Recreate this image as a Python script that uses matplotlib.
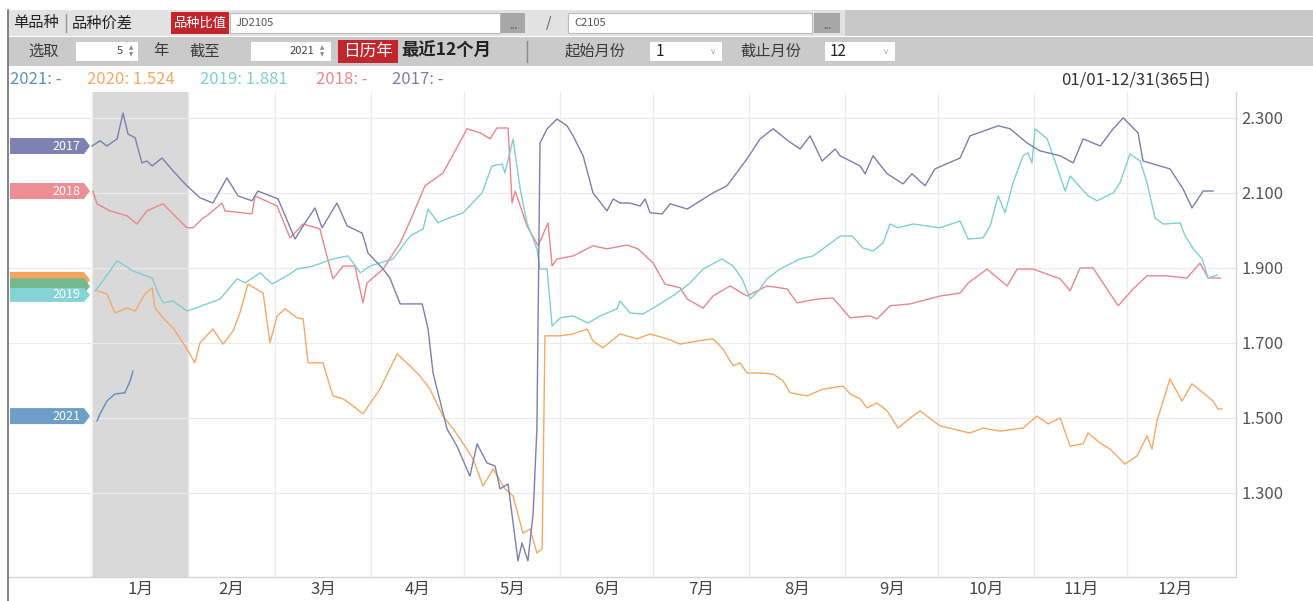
import matplotlib
matplotlib.use('Agg')
import matplotlib.pyplot as plt
from matplotlib.patches import Rectangle, Polygon
from matplotlib.transforms import blended_transform_factory
from matplotlib.ticker import FormatStrFormatter, FixedLocator

plt.rcParams['font.family'] = ['Noto Sans CJK SC', 'DejaVu Sans']

# ---------------- data (day of year, ratio JD2105 / C2105) ----------------
days_2017 = [0, 2.6, 4.8, 8.1, 10, 11.6, 13.9, 16.1, 17.7, 19.4, 22.6, 26.1, 30, 34.8, 39, 43.5, 47.1,
             51.6, 53.5, 60, 65.5, 68.7, 71.9, 74.2, 79, 82.3, 87.1, 88.1, 89, 93.9, 96.1, 99.4, 106.5,
             108.4, 110, 114.5, 117.7, 121.9, 124.2, 127.4, 130, 131.6, 134.2, 137.4, 138.7, 140.6,
             142.3, 143.5, 144.5, 146.8, 150, 153.2, 155.2, 158.4, 161.6, 166.1, 168.1, 170.3, 173.5,
             176.8, 178.4, 180, 183.9, 186.5, 192, 200.3, 204.8, 211.3, 215.5, 219.7, 224.5, 228.4,
             231.6, 235.5, 239.7, 241.3, 247.7, 249.4, 251.9, 256.5, 261.6, 264.5, 268.7, 271.9, 280,
             283.2, 292.3, 296.1, 301.6, 305.8, 312.3, 316.5, 319.7, 325.2, 329.4, 332.6, 337.4, 339,
             347.7, 351.9, 354.8, 358.4, 361.6]
vals_2017 = [2.225, 2.239, 2.225, 2.244, 2.313, 2.257, 2.247, 2.180, 2.185, 2.172, 2.193, 2.159, 2.124,
             2.087, 2.073, 2.140, 2.092, 2.079, 2.105, 2.084, 1.977, 2.020, 2.060, 2.007, 2.073, 2.012,
             1.993, 1.967, 1.940, 1.897, 1.873, 1.804, 1.804, 1.737, 1.620, 1.471, 1.425, 1.345, 1.431,
             1.380, 1.372, 1.311, 1.324, 1.119, 1.167, 1.119, 1.247, 1.471, 2.233, 2.271, 2.297, 2.279,
             2.252, 2.199, 2.100, 2.052, 2.084, 2.073, 2.073, 2.065, 2.084, 2.047, 2.044, 2.071, 2.057,
             2.100, 2.119, 2.191, 2.244, 2.271, 2.239, 2.217, 2.252, 2.185, 2.217, 2.199, 2.172, 2.151,
             2.199, 2.151, 2.124, 2.151, 2.119, 2.164, 2.193, 2.252, 2.279, 2.271, 2.233, 2.212, 2.199,
             2.180, 2.244, 2.225, 2.271, 2.300, 2.260, 2.185, 2.164, 2.111, 2.060, 2.105, 2.105]

days_2018 = [0.3, 1.6, 5.8, 11.3, 14.5, 17.7, 22.9, 26.1, 30.6, 32.6, 35.8, 37.1, 41.9, 42.9, 51.6, 52.6,
             59.7, 63.9, 68.1, 73.5, 77.7, 81, 84.8, 87.4, 88.7, 93.9, 99.4, 102.6, 107.4, 113.2, 121,
             125.2, 128.4, 130.6, 134.2, 135.5, 136.5, 140.3, 143.9, 147.1, 148.4, 150, 155.2, 161.6,
             166.1, 172.6, 176.1, 181, 184.8, 189.7, 192, 197.1, 200.3, 205.8, 211.3, 217.7, 224.2,
             227.4, 233.9, 239, 244.5, 251, 253.2, 257.4, 263.9, 273.5, 280, 282.6, 288.7, 295.2,
             298.4, 303.5, 312.3, 315.5, 318.7, 322.9, 325.2, 331, 335.8, 340.3, 346.8, 353.2, 357.4,
             360, 363.9]
vals_2018 = [2.105, 2.071, 2.052, 2.039, 2.017, 2.052, 2.071, 2.044, 2.007, 2.007, 2.033, 2.039, 2.073,
             2.052, 2.044, 2.092, 2.065, 1.980, 2.017, 2.004, 1.871, 1.905, 1.905, 1.807, 1.860, 1.897,
             1.967, 2.025, 2.119, 2.153, 2.271, 2.260, 2.244, 2.273, 2.273, 2.073, 2.105, 2.012, 1.959,
             2.020, 1.905, 1.924, 1.932, 1.959, 1.951, 1.961, 1.951, 1.913, 1.857, 1.847, 1.817, 1.793,
             1.825, 1.852, 1.825, 1.852, 1.844, 1.807, 1.817, 1.820, 1.767, 1.772, 1.764, 1.799, 1.804,
             1.825, 1.833, 1.860, 1.897, 1.852, 1.897, 1.897, 1.871, 1.839, 1.900, 1.900, 1.871, 1.799,
             1.844, 1.879, 1.879, 1.873, 1.913, 1.873, 1.873]

days_2019 = [1, 3.5, 8.1, 13.2, 19.4, 21, 22.9, 26.1, 30.6, 37.1, 41.3, 46.8, 49.4, 54.2, 58.1, 63.9,
             66.1, 71.3, 77.7, 82.6, 86.5, 89.7, 97.1, 102.6, 106.8, 108.4, 111.6, 114.5, 119.7, 125.8,
             129, 132.3, 133.2, 135.8, 138.1, 140.3, 143.5, 144.5, 146.8, 148.4, 151, 155.2, 160,
             163.9, 169.4, 170.3, 173.5, 177.7, 183.2, 188.7, 192.9, 197.1, 203.2, 206.8, 209.7, 212.3,
             215.5, 217.7, 221.9, 228.4, 232.6, 237.1, 241.3, 245.2, 248.7, 251.9, 255.2, 257.4, 260,
             264.8, 273.5, 280, 282.6, 287.4, 289.7, 292.3, 294.5, 297.1, 300.3, 301.9, 303.2, 304.2,
             308.1, 310, 313.9, 315.5, 321.3, 324.2, 329.4, 331.6, 334.8, 338.1, 340.3, 342.9, 345.5,
             351, 352.6, 355.2, 358.1, 360, 362.9]
vals_2019 = [1.839, 1.865, 1.919, 1.892, 1.873, 1.839, 1.807, 1.812, 1.785, 1.804, 1.817, 1.871, 1.860,
             1.887, 1.857, 1.884, 1.897, 1.905, 1.924, 1.932, 1.887, 1.905, 1.924, 1.985, 2.004, 2.057,
             2.020, 2.031, 2.047, 2.100, 2.172, 2.177, 2.153, 2.244, 2.111, 2.020, 1.951, 1.897, 1.897,
             1.745, 1.767, 1.772, 1.753, 1.772, 1.791, 1.812, 1.780, 1.777, 1.804, 1.833, 1.860, 1.897,
             1.924, 1.905, 1.871, 1.817, 1.844, 1.871, 1.897, 1.924, 1.932, 1.959, 1.985, 1.985, 1.953,
             1.945, 1.967, 2.017, 2.007, 2.017, 2.007, 2.025, 1.977, 1.980, 2.012, 2.092, 2.047, 2.127,
             2.199, 2.207, 2.180, 2.271, 2.244, 2.199, 2.105, 2.145, 2.092, 2.079, 2.100, 2.127, 2.204,
             2.185, 2.127, 2.033, 2.017, 2.020, 1.985, 1.951, 1.924, 1.873, 1.881]

days_2020 = [1.6, 4.8, 7.4, 11.3, 13.9, 17.1, 19.4, 20.3, 22.9, 26.1, 30.6, 33.2, 34.8, 39, 42.3, 45.5,
             47.7, 50.3, 55.2, 57.4, 59.7, 62.3, 66.1, 68.1, 69.7, 74.5, 77.7, 81, 84.2, 87.4, 92.9,
             98.4, 103.5, 105.8, 109, 113.2, 116.5, 120.3, 122.9, 126.1, 129.4, 133.2, 135.8, 139,
             141.3, 143.5, 145.2, 146.1, 151, 155.2, 159.7, 161.6, 164.8, 170.3, 175.8, 180, 185.5,
             189.7, 195.2, 200.3, 203.5, 206.8, 209, 211.3, 215.5, 219.7, 222.9, 225.2, 230.6, 235.8,
             242.3, 244.5, 247.7, 250, 253.2, 256.5, 260, 263.9, 267.1, 273.5, 283.2, 287.4, 292.9,
             300.3, 304.8, 308.4, 312.3, 315.5, 319.7, 321.3, 325.2, 328.4, 333.2, 337.1, 340.3, 341.9,
             343.5, 347.7, 351.6, 354.8, 358.4, 361.6, 363.2, 364.5]
vals_2020 = [1.839, 1.831, 1.780, 1.793, 1.785, 1.831, 1.847, 1.793, 1.767, 1.740, 1.684, 1.647, 1.700,
             1.737, 1.697, 1.732, 1.780, 1.857, 1.833, 1.700, 1.772, 1.791, 1.767, 1.764, 1.647, 1.647,
             1.559, 1.551, 1.532, 1.511, 1.577, 1.671, 1.631, 1.612, 1.577, 1.505, 1.471, 1.425, 1.391,
             1.319, 1.364, 1.311, 1.292, 1.193, 1.204, 1.140, 1.151, 1.719, 1.719, 1.724, 1.737, 1.705,
             1.687, 1.724, 1.711, 1.724, 1.711, 1.697, 1.705, 1.711, 1.684, 1.639, 1.647, 1.620, 1.620,
             1.617, 1.599, 1.567, 1.559, 1.577, 1.585, 1.564, 1.551, 1.527, 1.540, 1.519, 1.473, 1.500,
             1.519, 1.479, 1.460, 1.473, 1.465, 1.473, 1.505, 1.484, 1.500, 1.425, 1.431, 1.460, 1.433,
             1.417, 1.377, 1.399, 1.452, 1.417, 1.492, 1.604, 1.545, 1.591, 1.567, 1.545, 1.524, 1.524]

days_2021 = [1.6, 2.6, 4.8, 7.4, 10.6, 12.3, 13.2]
vals_2021 = [1.492, 1.511, 1.545, 1.564, 1.567, 1.599, 1.625]

years = ['2021', '2020', '2019', '2018', '2017']
latest = ['-', '1.524', '1.881', '-', '-']
month_labels = ['1月', '2月', '3月', '4月', '5月', '6月', '7月', '8月', '9月', '10月', '11月', '12月']
month_starts = [0, 31, 59, 90, 120, 151, 181, 212, 243, 273, 304, 334, 365]
yticks = [1.3, 1.5, 1.7, 1.9, 2.1, 2.3]

colors = {'2017': '#7b7fae', '2018': '#e8878e', '2019': '#7fcfd3',
          '2020': '#f4a964', '2021': '#5b91bc'}
tag_colors = {'2017': '#7d82b3', '2018': '#ec8f95', '2020': '#f6a55e', 'g': '#72b98e',
              '2019': '#84d3d6', '2021': '#6c9ec7'}

W, H = 1313, 601
fig = plt.figure(figsize=(W / 100, H / 100), dpi=100)
fig.patch.set_facecolor('white')

# ---------------- main chart ----------------
ax_l, ax_r, ax_t, ax_b = 8, 1236, 92, 577
ax = fig.add_axes([ax_l / W, (H - ax_b) / H, (ax_r - ax_l) / W, (ax_b - ax_t) / H])
ax.set_xlim(-27.1, 369.0)
ax.set_ylim(1.076, 2.369)

ax.axvspan(month_starts[0], month_starts[1], color='#d9d9d9', lw=0, zorder=0)

for s in ['left', 'top']:
    ax.spines[s].set_visible(False)
for s in ['right', 'bottom']:
    ax.spines[s].set_color('#d4d4d4')
    ax.spines[s].set_linewidth(1.0)

centers = [(month_starts[i] + month_starts[i + 1]) / 2 for i in range(12)]
ax.xaxis.set_major_locator(FixedLocator(centers))
ax.set_xticklabels(month_labels)
ax.xaxis.set_minor_locator(FixedLocator(month_starts[:12]))
ax.tick_params(axis='x', which='both', length=0, pad=3, labelsize=12, labelcolor='#444444')
ax.grid(which='minor', axis='x', color='#ebebeb', lw=0.9, zorder=1)

ax.yaxis.tick_right()
ax.set_yticks(yticks)
ax.yaxis.set_major_formatter(FormatStrFormatter('%.3f'))
ax.tick_params(axis='y', length=0, pad=4, labelsize=12, labelcolor='#555555')
ax.grid(which='major', axis='y', color='#ebebeb', lw=0.9, zorder=1)

series = [('2018', days_2018, vals_2018), ('2019', days_2019, vals_2019),
          ('2020', days_2020, vals_2020), ('2017', days_2017, vals_2017),
          ('2021', days_2021, vals_2021)]
for yr, d, v in series:
    ax.plot(d, v, color=colors[yr], lw=1.0, zorder=3)

# left-side year tags
bt = blended_transform_factory(ax.transAxes, ax.transData)
axw = ax_r - ax_l
px_per_unit = (ax_b - ax_t) / (2.369 - 1.076)
x0, x1, x2 = (10 - ax_l) / axw, (84 - ax_l) / axw, (90 - ax_l) / axw
xt = (80 - ax_l) / axw
tags = [('2017', vals_2017[0], '2017', 8), ('2018', vals_2018[0], '2018', 8),
        ('2020', 1.868, '', 8), ('g', 1.851, '', 8), ('2019', 1.828, '2019', 7),
        ('2021', 1.505, '2021', 8)]
for key, yv, label, hp in tags:
    h = hp / px_per_unit
    poly = Polygon([(x0, yv - h), (x1, yv - h), (x2, yv), (x1, yv + h), (x0, yv + h)],
                   closed=True, transform=bt, facecolor=tag_colors[key], edgecolor='none',
                   zorder=6, clip_on=False)
    ax.add_patch(poly)
    if label:
        ax.text(xt, yv, label, transform=bt, ha='right', va='center', color='white',
                fontsize=9, zorder=7)

# ---------------- UI overlay (toolbar, legend row) ----------------
ui = fig.add_axes([0, 0, 1, 1], zorder=10)
ui.set_xlim(0, W)
ui.set_ylim(H, 0)
ui.axis('off')
ui.patch.set_alpha(0)


def rect(x, y, w, h, fc, ec='none', lw=0.8):
    ui.add_patch(Rectangle((x, y), w, h, facecolor=fc, edgecolor=ec, lw=lw))


def txt(x, y, s, **kw):
    kw.setdefault('va', 'center')
    kw.setdefault('ha', 'left')
    kw.setdefault('fontsize', 11)
    kw.setdefault('color', '#333333')
    ui.text(x, y, s, **kw)


# row 1
rect(8, 10, W - 8, 26, '#e2e2e2')
rect(845, 10, W - 845, 26, '#c8c8c8')
txt(13, 23, '单品种', color='#222222')
ui.plot([66, 66], [14, 32], color='#9a9a9a', lw=1)
txt(72, 23, '品种价差', color='#222222')
rect(171, 12, 58, 22, '#c0262c')
txt(200, 23, '品种比值', ha='center', color='white', fontsize=9.5)
rect(230, 13, 270, 20, 'white', '#bdbdbd')
txt(236, 23, 'JD2105', fontsize=8, color='#555555')
rect(501, 13, 24, 20, '#a7a7a7')
txt(513, 26, '...', ha='center', fontsize=7, color='#555555')
txt(549, 23, '/', ha='center', fontsize=10, color='#555555')
rect(568, 13, 244, 20, 'white', '#bdbdbd')
txt(574, 23, 'C2105', fontsize=8, color='#555555')
rect(814, 13, 26, 20, '#a7a7a7')
txt(827, 26, '...', ha='center', fontsize=7, color='#555555')

# row 2
rect(8, 37, W - 8, 29, '#cacaca')
txt(28, 51, '选取', color='#3a3a3a')
rect(76, 42, 62, 19, 'white')
txt(123, 51, '5', ha='right', fontsize=8, color='#444444')
txt(131, 48, '▲', ha='center', fontsize=4, color='#888888', family='DejaVu Sans')
txt(131, 55, '▼', ha='center', fontsize=4, color='#888888', family='DejaVu Sans')
txt(153, 51, '年', color='#3a3a3a')
txt(189, 51, '截至', color='#3a3a3a')
rect(251, 42, 80, 19, 'white')
txt(314, 51, '2021', ha='right', fontsize=8, color='#444444')
txt(322, 48, '▲', ha='center', fontsize=4, color='#888888', family='DejaVu Sans')
txt(322, 55, '▼', ha='center', fontsize=4, color='#888888', family='DejaVu Sans')
rect(338, 40, 60, 23, '#c0262c')
txt(368, 51, '日历年', ha='center', color='white', fontsize=12)
txt(401, 51, '最近12个月', color='#222222', fontsize=12.5, fontweight='bold')
ui.plot([527, 527], [41, 62], color='#8a8a8a', lw=1)
txt(565, 51, '起始月份', color='#3a3a3a')
rect(650, 42, 72, 19, 'white')
txt(656, 51, '1', fontsize=11, color='#222222')
txt(713, 51, '∨', ha='center', fontsize=6, color='#aaaaaa', family='DejaVu Sans')
txt(740, 51, '截止月份', color='#3a3a3a')
rect(825, 42, 70, 19, 'white')
txt(830, 51, '12', fontsize=11, color='#222222')
txt(886, 51, '∨', ha='center', fontsize=6, color='#aaaaaa', family='DejaVu Sans')

# legend row
leg_x = [10, 87, 200, 316, 392]
for xx, yr, val in zip(leg_x, years, latest):
    txt(xx, 80, f'{yr}: {val}', color=colors[yr], fontsize=12)
txt(1210, 80, '01/01-12/31(365日)', ha='right', color='#333333', fontsize=12)

# left border
ui.plot([8, 8], [10, H], color='#7a7a7a', lw=1.3)

fig.savefig('out.png', dpi=100, facecolor='white')
